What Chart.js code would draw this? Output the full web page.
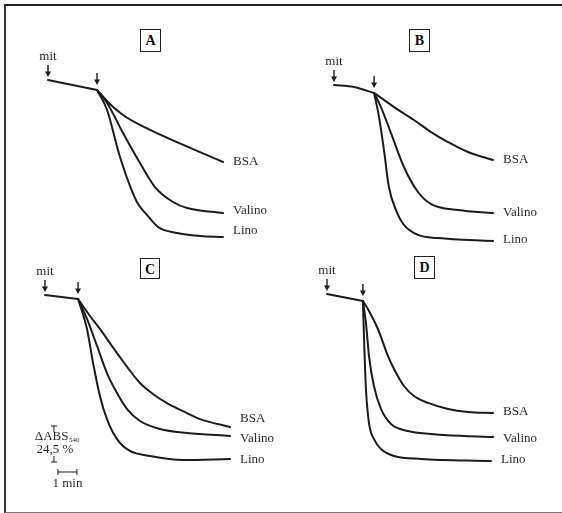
<!DOCTYPE html>
<html>
<head>
<meta charset="utf-8">
<script src="https://cdn.jsdelivr.net/npm/chart.js@4/dist/chart.umd.min.js"></script>
<style>
  body { margin: 0; width: 562px; height: 513px; background: #fff; position: relative; overflow: hidden; }
  #frame { position: absolute; left: 4px; top: 4px; width: 620px; height: 506px;
           border-top: 2px solid #222; border-left: 2px solid #333; border-bottom: 1.5px solid #777; }
  canvas { position: absolute; }
  .tag { position: absolute; width: 19px; height: 21px; border: 1px solid #222; background: #fff;
         font: bold 14px "Liberation Serif", serif; text-align: center; line-height: 22px; color: #111; }
</style>
</head>
<body>
<div id="frame"></div>
<canvas id="cA" width="281" height="256" style="left:0;top:0"></canvas>
<canvas id="cB" width="281" height="256" style="left:281px;top:0"></canvas>
<canvas id="cC" width="281" height="256" style="left:0;top:256px"></canvas>
<canvas id="cD" width="281" height="256" style="left:281px;top:256px"></canvas>
<div class="tag" style="left:140px;top:29px">A</div>
<div class="tag" style="left:409px;top:29px">B</div>
<div class="tag" style="left:140px;top:258px;width:18px;height:19px;line-height:21px">C</div>
<div class="tag" style="left:414px;top:256px">D</div>
<script>
// time in min after mitochondria ("mit"), absorbance change in % (0 = start)
const seriesNames = ["BSA", "Valino", "Lino"];

const A_pre_t = [0, 2.58];
const A_pre_y = [0, -6.8];
const A_bsa_t = [2.58, 3.26, 3.95, 4.84, 9.21];
const A_bsa_y = [-6.8, -16.3, -23.8, -30.6, -55.8];
const A_val_t = [2.58, 3.11, 3.95, 4.84, 5.63, 6.58, 7.32, 9.21];
const A_val_y = [-6.8, -15.6, -36.1, -56.5, -72.8, -83.0, -87.1, -90.5];
const A_lin_t = [2.58, 3.11, 3.79, 4.68, 5.21, 5.79, 6.79, 8.0, 9.21];
const A_lin_y = [-6.8, -20.4, -52.4, -83.0, -91.8, -100, -104.1, -106.1, -106.8];

const B_pre_t = [0, 1.05, 2.11];
const B_pre_y = [0, -1.4, -5.4];
const B_bsa_t = [2.11, 3.16, 4.21, 5.11, 6.0, 7.05, 8.37];
const B_bsa_y = [-5.4, -15.0, -23.8, -32.0, -38.8, -45.6, -51.0];
const B_val_t = [2.11, 2.47, 3.0, 3.68, 4.42, 5.11, 6.53, 8.37];
const B_val_y = [-5.4, -15.0, -32.7, -55.8, -72.8, -81.0, -85.0, -87.1];
const B_lin_t = [2.11, 2.37, 2.63, 2.89, 3.26, 3.68, 4.42, 5.47, 8.37];
const B_lin_y = [-5.4, -21.8, -44.2, -69.4, -85.0, -95.2, -102.0, -104.1, -106.1];

const C_pre_t = [0, 1.74];
const C_pre_y = [0, -2.7];
const C_bsa_t = [1.74, 2.37, 2.89, 3.79, 5.0, 5.68, 6.42, 7.47, 8.16, 9.74];
const C_bsa_y = [-2.7, -14.3, -23.1, -39.5, -59.9, -67.3, -73.5, -80.3, -84.4, -89.8];
const C_val_t = [1.74, 2.21, 2.74, 3.26, 3.79, 4.32, 5.0, 6.05, 7.47, 9.74];
const C_val_y = [-2.7, -16.3, -34.7, -53.1, -66.7, -77.6, -85.7, -91.2, -93.9, -95.9];
const C_lin_t = [1.74, 2.21, 2.53, 2.89, 3.26, 3.79, 4.47, 5.53, 7.26, 9.74];
const C_lin_y = [-2.7, -23.1, -46.3, -68.7, -84.4, -98.0, -106.1, -109.5, -112.2, -111.6];

const D_pre_t = [0, 1.89];
const D_pre_y = [0, -4.8];
const D_bsa_t = [1.89, 2.21, 2.68, 3.21, 3.53, 4.05, 4.58, 5.32, 6.37, 7.42, 8.74];
const D_bsa_y = [-4.8, -11.6, -23.8, -42.2, -51.0, -62.6, -69.4, -74.1, -78.2, -80.3, -81.0];
const D_val_t = [1.89, 2.05, 2.21, 2.47, 2.84, 3.37, 4.26, 5.47, 7.21, 8.74];
const D_val_y = [-4.8, -19.7, -42.2, -62.6, -78.2, -88.4, -93.2, -95.2, -96.6, -97.3];
const D_lin_t = [1.89, 1.95, 2.05, 2.21, 2.47, 2.84, 3.53, 4.95, 8.63];
const D_lin_y = [-4.8, -30.6, -64.6, -87.8, -98.6, -105.4, -110.2, -112.2, -113.6];

// scale bar shown in panel C
const barPercent = 24.5;
const barMinutes = 1;

const MIN_PX = 19;    // pixels per minute
const PCT_PX = 1.47;  // pixels per %
const INK = "#1c1c1c";
const SERIF = '"Liberation Serif", "Times New Roman", serif';

function pts(t, y) { return t.map((v, i) => ({ x: v, y: y[i] })); }

function arrow(ctx, x, tipY, len) {
  ctx.beginPath();
  ctx.moveTo(x, tipY - len);
  ctx.lineTo(x, tipY - 3);
  ctx.lineWidth = 1.4;
  ctx.stroke();
  ctx.beginPath();
  ctx.moveTo(x - 3, tipY - 5.5);
  ctx.lineTo(x + 3, tipY - 5.5);
  ctx.lineTo(x, tipY);
  ctx.closePath();
  ctx.fill();
}

const marks = {
  id: "marks",
  afterDatasetsDraw(chart, args, opts) {
    const ctx = chart.ctx;
    ctx.save();
    ctx.strokeStyle = INK;
    ctx.fillStyle = INK;
    const pre = chart.getDatasetMeta(0).data;
    const p0 = pre[0], p1 = pre[pre.length - 1];
    arrow(ctx, p0.x, p0.y - 3, 12);
    arrow(ctx, p1.x, p1.y - 5, 12);
    ctx.font = "13px " + SERIF;
    ctx.textAlign = "center";
    ctx.textBaseline = "middle";
    ctx.fillStyle = "#2a2a2a";
    ctx.fillText("mit", p0.x, p0.y - 23);
    ctx.textAlign = "left";
    for (let i = 1; i <= 3; i++) {
      const d = chart.getDatasetMeta(i).data;
      const last = d[d.length - 1];
      ctx.fillText(chart.data.datasets[i].label, last.x + 10, last.y + opts.labelDy[i - 1]);
    }
    ctx.fillStyle = INK;
    if (opts.scaleBar) {
      const xs = chart.scales.x, ys = chart.scales.y;
      const bx = xs.getPixelForValue(0.47);
      const top = ys.getPixelForValue(-89.1);
      const bot = ys.getPixelForValue(-89.1 - barPercent);
      const mid = (top + bot) / 2;
      ctx.lineWidth = 1;
      ctx.beginPath();
      ctx.moveTo(bx - 3, top); ctx.lineTo(bx + 3, top);
      ctx.moveTo(bx, top); ctx.lineTo(bx, top + 6);
      ctx.moveTo(bx - 3, bot); ctx.lineTo(bx + 3, bot);
      ctx.moveTo(bx, bot); ctx.lineTo(bx, bot - 6);
      ctx.stroke();
      ctx.fillStyle = "#2a2a2a";
      ctx.textBaseline = "alphabetic";
      ctx.font = "13px " + SERIF;
      const w1 = ctx.measureText("\u0394ABS").width;
      ctx.font = "7px " + SERIF;
      const w2 = ctx.measureText("540").width;
      let sx = bx + 3 - (w1 + w2) / 2;
      ctx.textAlign = "left";
      ctx.font = "13px " + SERIF;
      ctx.fillText("\u0394ABS", sx, mid - 4);
      ctx.font = "7px " + SERIF;
      ctx.fillText("540", sx + w1 + 0.5, mid - 2);
      ctx.font = "13px " + SERIF;
      ctx.textAlign = "center";
      ctx.fillText("24,5 %", bx + 1, mid + 9);
      const hy = ys.getPixelForValue(-120.4);
      const hx0 = xs.getPixelForValue(0.68);
      const hx1 = xs.getPixelForValue(0.68 + barMinutes);
      ctx.beginPath();
      ctx.moveTo(hx0, hy); ctx.lineTo(hx1, hy);
      ctx.moveTo(hx0, hy - 3); ctx.lineTo(hx0, hy + 3);
      ctx.moveTo(hx1, hy - 3); ctx.lineTo(hx1, hy + 3);
      ctx.stroke();
      ctx.textBaseline = "middle";
      ctx.fillText("1 min", (hx0 + hx1) / 2, hy + 12);
    }
    ctx.restore();
  }
};

function panel(id, anchor, pre, curves, labelDy, scaleBar) {
  const [ax, ay] = anchor;
  const datasets = [{ label: "mit", data: pts(pre[0], pre[1]) }];
  curves.forEach((c, i) => datasets.push({ label: seriesNames[i], data: pts(c[0], c[1]) }));
  datasets.forEach(d => Object.assign(d, {
    borderColor: INK, borderWidth: 2, pointRadius: 0, fill: false,
    cubicInterpolationMode: "monotone", borderCapStyle: "round", borderJoinStyle: "round"
  }));
  new Chart(document.getElementById(id), {
    type: "line",
    data: { datasets },
    options: {
      responsive: false,
      animation: false,
      devicePixelRatio: 1,
      layout: { padding: 0 },
      plugins: { legend: { display: false }, tooltip: { enabled: false }, marks: { scaleBar, labelDy } },
      scales: {
        x: { type: "linear", display: false, min: -ax / MIN_PX, max: (281 - ax) / MIN_PX },
        y: { type: "linear", display: false, min: -(256 - ay) / PCT_PX, max: ay / PCT_PX }
      }
    },
    plugins: [marks]
  });
}

panel("cA", [48, 80], [A_pre_t, A_pre_y], [[A_bsa_t, A_bsa_y], [A_val_t, A_val_y], [A_lin_t, A_lin_y]], [0, -2, -6], false);
panel("cB", [53, 85], [B_pre_t, B_pre_y], [[B_bsa_t, B_bsa_y], [B_val_t, B_val_y], [B_lin_t, B_lin_y]], [0, 0, -1], false);
panel("cC", [45, 39], [C_pre_t, C_pre_y], [[C_bsa_t, C_bsa_y], [C_val_t, C_val_y], [C_lin_t, C_lin_y]], [-8, 3, 1], true);
panel("cD", [46, 38], [D_pre_t, D_pre_y], [[D_bsa_t, D_bsa_y], [D_val_t, D_val_y], [D_lin_t, D_lin_y]], [-1, 2, -1], false);
</script>
</body>
</html>
